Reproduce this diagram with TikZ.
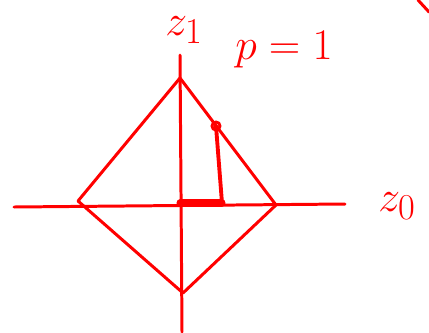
\documentclass[tikz,border=0pt]{standalone}
\begin{document}
\begin{tikzpicture}[x=0.02cm,y=-0.02cm,line cap=round,line join=round,
    pen/.style={red,line width=1.7pt},
    lbl/.style={red,font=\fontsize{30}{36}\selectfont}]
    \useasboundingbox (0,0) rectangle (429,332);
    % axes
    \coordinate (xl) at (14,207);
    \coordinate (xr) at (345,204);
    \coordinate (yt) at (180,55);
    \coordinate (yb) at (182,332);
    \draw[pen] (xl) -- (xr);
    \draw[pen] (yt) -- (yb);
    % unit ball
    \coordinate (top) at (180,78);
    \coordinate (right) at (276,205);
    \coordinate (bottom) at (183,293);
    \coordinate (left) at (78,201);
    \draw[pen] (top) -- (right) -- (bottom) -- (left) -- cycle;
    % step
    \coordinate (o) at (180,203);
    \coordinate (c) at (222,203);
    \coordinate (h) at (216,126);
    \draw[red,line width=4pt] (o) -- (c);
    \draw[red,line width=2.2pt] (c) -- (h);
    \draw[pen] (h) circle[radius=4];
    % labels
    \node[lbl] (zone) at (184,30) {$z_1$};
    \node[lbl] (pval) at (284,50) {$p=1$};
    \node[lbl] (zzero) at (397,206) {$z_0$};
    \coordinate (m1) at (418,0);
    \coordinate (m2) at (429,12);
    \draw[pen] (m1) -- (m2);
\end{tikzpicture}
\end{document}
